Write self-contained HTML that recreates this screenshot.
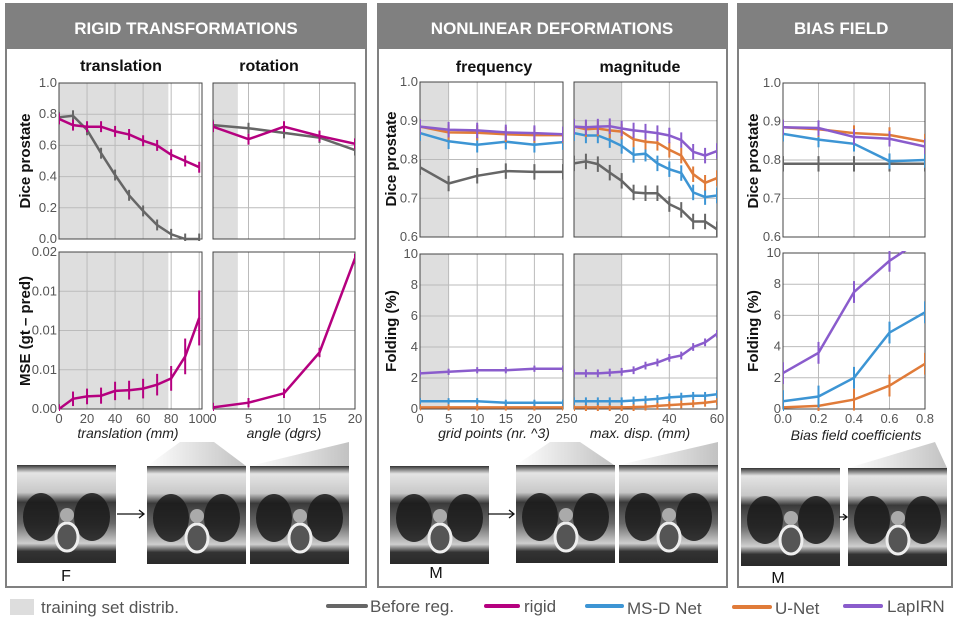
<!DOCTYPE html>
<html><head><meta charset="utf-8"><style>
body{margin:0;width:960px;height:623px;background:#fff;overflow:hidden;font-family:"Liberation Sans",sans-serif}
svg{position:absolute;left:0;top:0}
</style></head><body>
<svg id="fig" width="960" height="623" xmlns="http://www.w3.org/2000/svg">
<defs>
<linearGradient id="mri" x1="0" y1="0" x2="0" y2="1"><stop offset="0" stop-color="#333"/><stop offset="0.08" stop-color="#e4e4e4"/><stop offset="0.28" stop-color="#c8c8c8"/><stop offset="0.38" stop-color="#3a3a3a"/><stop offset="0.6" stop-color="#6a6a6a"/><stop offset="0.8" stop-color="#cfcfcf"/><stop offset="0.88" stop-color="#333"/><stop offset="1" stop-color="#2a2a2a"/></linearGradient>
<linearGradient id="cone" x1="0" y1="0" x2="1" y2="0"><stop offset="0" stop-color="#fff"/><stop offset="1" stop-color="#999"/></linearGradient>
</defs>
<g>
<rect x="6" y="4" width="360" height="583" fill="#fff" stroke="#808080" stroke-width="2"/>
<rect x="6" y="4" width="360" height="45" fill="#808080"/>
<text x="186" y="34" text-anchor="middle" fill="#fff" font-size="17" font-weight="bold">RIGID TRANSFORMATIONS</text>
</g>
<g>
<rect x="378" y="4" width="349" height="583" fill="#fff" stroke="#808080" stroke-width="2"/>
<rect x="378" y="4" width="349" height="45" fill="#808080"/>
<text x="552" y="34" text-anchor="middle" fill="#fff" font-size="17" font-weight="bold">NONLINEAR DEFORMATIONS</text>
</g>
<g>
<rect x="738" y="4" width="214" height="583" fill="#fff" stroke="#808080" stroke-width="2"/>
<rect x="738" y="4" width="214" height="45" fill="#808080"/>
<text x="794" y="34" fill="#fff" font-size="17" font-weight="bold">BIAS FIELD</text>
</g>
<g font-size="16" font-weight="bold" fill="#111" text-anchor="middle">
<text x="121" y="71">translation</text>
<text x="269" y="71">rotation</text>
<text x="494" y="72">frequency</text>
<text x="640" y="72">magnitude</text>
</g>
<g font-size="15" font-weight="bold" fill="#111" text-anchor="middle">
<text transform="translate(30,161) rotate(-90)">Dice prostate</text>
<text transform="translate(30,331) rotate(-90)">MSE (gt – pred)</text>
<text transform="translate(396,159) rotate(-90)">Dice prostate</text>
<text transform="translate(396,331) rotate(-90)">Folding (%)</text>
<text transform="translate(758,161) rotate(-90)">Dice prostate</text>
<text transform="translate(758,331) rotate(-90)">Folding (%)</text>
</g>
<g font-size="14" font-style="italic" fill="#222" text-anchor="middle">
<text x="128" y="438">translation (mm)</text>
<text x="284" y="438">angle (dgrs)</text>
<text x="494" y="438">grid points (nr. ^3)</text>
<text x="640" y="438">max. disp. (mm)</text>
<text x="856" y="440">Bias field coefficients</text>
</g>
<g id="charts"></g>
<g id="images">
<polygon points="147,466 246,466 214,442 180,442" fill="url(#cone)" opacity="0.6"/>
<polygon points="250,466 349,466 349,442" fill="url(#cone)" opacity="0.6"/>
<polygon points="516,465 614,465 580,442 550,442" fill="url(#cone)" opacity="0.6"/>
<polygon points="619,465 718,465 718,442" fill="url(#cone)" opacity="0.6"/>
<polygon points="848,468 947,468 935,442" fill="url(#cone)" opacity="0.6"/>
</g>
<g font-size="16" fill="#111" text-anchor="middle">
<text x="66" y="581">F</text>
<text x="436" y="578">M</text>
<text x="778" y="583">M</text>
</g>
<g stroke="#111" stroke-width="1.3" fill="none">
<path d="M117 514 H144 M139 510 L144 514 L139 518"/>
<path d="M488 514 H514 M509 510 L514 514 L509 518"/>
<path d="M839 517 H847 M843 514 L847 517 L843 520"/>
</g>
<g font-size="17" fill="#555">
<rect x="10" y="599" width="24" height="16" fill="#ddd"/>
<text x="41" y="613">training set distrib.</text>
<line x1="328" y1="606" x2="366" y2="606" stroke="#666" stroke-width="4" stroke-linecap="round"/>
<text x="370" y="612">Before reg.</text>
<line x1="486" y1="606" x2="518" y2="606" stroke="#b5007f" stroke-width="4" stroke-linecap="round"/>
<text x="524" y="612">rigid</text>
<line x1="587" y1="606" x2="622" y2="606" stroke="#3d95d4" stroke-width="4" stroke-linecap="round"/>
<text x="627" y="614">MS-D Net</text>
<line x1="734" y1="607" x2="770" y2="607" stroke="#e07b39" stroke-width="4" stroke-linecap="round"/>
<text x="775" y="614">U-Net</text>
<line x1="845" y1="606" x2="881" y2="606" stroke="#8a5ccc" stroke-width="4" stroke-linecap="round"/>
<text x="887" y="612">LapIRN</text>
</g>
</svg>
<script>
const NS='http://www.w3.org/2000/svg';
const C={gray:'#666',rigid:'#b5007f',blue:'#3d95d4',orange:'#e07b39',purple:'#8a5ccc'};
// data
const transX=[0,10,20,30,40,50,60,70,80,90,100];
const transBefore=[0.78,0.79,0.70,0.55,0.41,0.28,0.18,0.09,0.03,0.0,0.0];
const transRigid=[0.77,0.73,0.72,0.72,0.69,0.67,0.63,0.60,0.54,0.50,0.46];
const transMSE=[0.0,0.0013,0.0016,0.0017,0.0023,0.0024,0.0026,0.0031,0.0039,0.0067,0.0116];
const rotX=[0,5,10,15,20];
const rotBefore=[0.73,0.71,0.68,0.65,0.57];
const rotRigid=[0.72,0.64,0.72,0.66,0.61];
const rotMSE=[0.0002,0.0008,0.0020,0.0072,0.0192];
const freqX=[0,5,10,15,20,25];
const freqPurple=[0.885,0.877,0.875,0.870,0.868,0.865];
const freqOrange=[0.885,0.870,0.869,0.865,0.863,0.863];
const freqBlue=[0.868,0.847,0.838,0.846,0.838,0.845];
const freqGray=[0.78,0.738,0.758,0.77,0.768,0.768];
const freqFoldPurple=[2.3,2.4,2.5,2.5,2.6,2.6];
const freqFoldBlue=[0.5,0.5,0.5,0.4,0.4,0.4];
const freqFoldOrange=[0.1,0.1,0.1,0.1,0.1,0.1];
const magX=[0,5,10,15,20,25,30,35,40,45,50,55,60];
const magPurple=[0.885,0.883,0.885,0.886,0.880,0.875,0.872,0.868,0.862,0.850,0.82,0.81,0.822];
const magOrange=[0.885,0.878,0.880,0.875,0.872,0.852,0.846,0.843,0.825,0.81,0.762,0.74,0.752];
const magBlue=[0.868,0.862,0.862,0.85,0.835,0.812,0.815,0.79,0.775,0.765,0.715,0.703,0.707];
const magGray=[0.79,0.795,0.788,0.766,0.745,0.715,0.713,0.713,0.685,0.67,0.64,0.64,0.62];
const magFoldPurple=[2.3,2.3,2.3,2.35,2.4,2.5,2.8,3.0,3.3,3.45,4.0,4.3,4.85];
const magFoldBlue=[0.5,0.5,0.5,0.5,0.5,0.55,0.6,0.65,0.75,0.8,0.85,0.85,0.95];
const magFoldOrange=[0.1,0.1,0.1,0.1,0.1,0.12,0.15,0.2,0.25,0.3,0.35,0.4,0.5];
const biasX=[0,0.2,0.4,0.6,0.8];
const biasPurple=[0.885,0.883,0.86,0.855,0.835];
const biasOrange=[0.885,0.88,0.87,0.865,0.848];
const biasBlue=[0.868,0.853,0.842,0.797,0.80];
const biasGray=[0.79,0.79,0.79,0.79,0.79];
const biasFoldPurple=[2.3,3.6,7.5,9.5,11];
const biasFoldBlue=[0.5,0.8,2.0,4.9,6.2];
const biasFoldOrange=[0.1,0.2,0.6,1.5,2.9];
const diceTicks=['0.0','0.2','0.4','0.6','0.8','1.0'];
const mseTicks=['0.00','0.01','0.01','0.01','0.02'];
const dice2Ticks=['0.6','0.7','0.8','0.9','1.0'];
const foldTicks=['0','2','4','6','8','10'];
const transTicks=['0','20','40','60','80','100'];
const rotTicks=['0','5','10','15','20'];
const freqTicks=['0','5','10','15','20','25'];
const magTicks=['0','20','40','60'];
const biasTicks=['0.0','0.2','0.4','0.6','0.8'];

const root=document.getElementById('charts');
function el(tag,attrs,parent){const e=document.createElementNS(NS,tag);for(const k in attrs)e.setAttribute(k,attrs[k]);parent.appendChild(e);return e;}
function chart(name,box,xd,yd,shade,xt,yt,showX,showY,series,err){
  const g=el('g',{},root);
  
  
  const [x0,y0,x1,y1]=box;
  const sx=v=>x0+(v-xd[0])/(xd[1]-xd[0])*(x1-x0);
  const sy=v=>y1-(v-yd[0])/(yd[1]-yd[0])*(y1-y0);
  const cid='clip'+name;
  const cp=el('clipPath',{id:cid},g);el('rect',{x:x0,y:y0-2,width:x1-x0,height:y1-y0+4},cp);
  if(shade!==null){const r=el('rect',{x:x0,y:y0,width:sx(shade)-x0,height:y1-y0,fill:'#dedede'},g);
    
    }
  xt.forEach(t=>{const v=parseFloat(t);el('line',{x1:sx(v),x2:sx(v),y1:y0,y2:y1,stroke:'#bbb','stroke-width':1},g);
    if(showX){const tx=el('text',{x:sx(v),y:y1+14,'text-anchor':'middle','font-size':13,fill:'#555'},g);tx.textContent=t;}});
  yt.forEach((t,i)=>{const v=yd[0]+(yd[1]-yd[0])*i/(yt.length-1);el('line',{x1:x0,x2:x1,y1:sy(v),y2:sy(v),stroke:'#bbb','stroke-width':1},g);
    if(showY){const tx=el('text',{x:x0-2,y:sy(v)+4,'text-anchor':'end','font-size':13,fill:'#555'},g);tx.textContent=t;}});
  el('rect',{x:x0,y:y0,width:x1-x0,height:y1-y0,fill:'none',stroke:'#444','stroke-width':1},g);
  const cg=el('g',{'clip-path':'url(#'+cid+')'},g);
  series.forEach(s=>{
    const [xs,ys,col,sname]=s;
    const p=xs.map((x,i)=>(i?'L':'M')+sx(x).toFixed(1)+' '+sy(ys[i]).toFixed(1)).join(' ');
    const line=el('path',{d:p,fill:'none',stroke:col,'stroke-width':2.5},cg);
    
    
    xs.forEach((x,i)=>{const e=typeof err==='number'?err:err(ys[i]);el('line',{x1:sx(x),x2:sx(x),y1:sy(ys[i]+e),y2:sy(ys[i]-e),stroke:col,'stroke-width':2},cg);});
  });
}
chart('translation-dice',[59,83,202,239],[0,102],[0,1],78,transTicks,diceTicks,false,true,
 [[transX,transBefore,C.gray,'before-line'],[transX,transRigid,C.rigid,'rigid-line']],0.035);
chart('rotation-dice',[213,83,355,239],[0,20],[0,1],3.5,rotTicks,diceTicks,false,false,
 [[rotX,rotBefore,C.gray,'before-line'],[rotX,rotRigid,C.rigid,'rigid-line']],0.035);
chart('translation-mse',[59,252,202,409],[0,102],[0,0.02],78,transTicks,mseTicks,true,true,
 [[transX,transMSE,C.rigid,'rigid-mse-line']],v=>0.0006+v*0.25);
chart('rotation-mse',[213,252,355,409],[0,20],[0,0.02],3.5,rotTicks,mseTicks,true,false,
 [[rotX,rotMSE,C.rigid,'rigid-mse-line']],0.0006);
chart('frequency-dice',[420,82,563,237],[0,25],[0.6,1],5,freqTicks,dice2Ticks,false,true,
 [[freqX,freqGray,C.gray,'before-line'],[freqX,freqBlue,C.blue,'msd-line'],[freqX,freqOrange,C.orange,'unet-line'],[freqX,freqPurple,C.purple,'lapirn-line']],0.02);
chart('magnitude-dice',[574,82,717,237],[0,60],[0.6,1],20,magTicks,dice2Ticks,false,false,
 [[magX,magGray,C.gray,'before-line'],[magX,magBlue,C.blue,'msd-line'],[magX,magOrange,C.orange,'unet-line'],[magX,magPurple,C.purple,'lapirn-line']],0.02);
chart('frequency-folding',[420,254,563,409],[0,25],[0,10],5,freqTicks,foldTicks,true,true,
 [[freqX,freqFoldOrange,C.orange,'unet-line'],[freqX,freqFoldBlue,C.blue,'msd-line'],[freqX,freqFoldPurple,C.purple,'lapirn-line']],0.2);
chart('magnitude-folding',[574,254,717,409],[0,60],[0,10],20,magTicks,foldTicks,true,false,
 [[magX,magFoldOrange,C.orange,'unet-line'],[magX,magFoldBlue,C.blue,'msd-line'],[magX,magFoldPurple,C.purple,'lapirn-line']],0.25);
chart('bias-dice',[783,83,925,237],[0,0.8],[0.6,1],null,biasTicks,dice2Ticks,false,true,
 [[biasX,biasGray,C.gray,'before-line'],[biasX,biasBlue,C.blue,'msd-line'],[biasX,biasOrange,C.orange,'unet-line'],[biasX,biasPurple,C.purple,'lapirn-line']],0.02);
chart('bias-folding',[783,253,925,409],[0,0.8],[0,10],null,biasTicks,foldTicks,true,true,
 [[biasX,biasFoldOrange,C.orange,'unet-line'],[biasX,biasFoldBlue,C.blue,'msd-line'],[biasX,biasFoldPurple,C.purple,'lapirn-line']],0.7);
// MRI thumbnails
const imgs=document.getElementById('images');
[[17,465],[147,466],[250,466],[390,466],[516,465],[619,465],[741,468],[848,468]].forEach((p,i)=>{
  const g=el('g',{},imgs);
  
  
  el('rect',{x:p[0],y:p[1],width:99,height:98,fill:'url(#mri)'},g);
  el('ellipse',{cx:p[0]+24,cy:p[1]+52,rx:18,ry:24,fill:'#1a1a1a',opacity:0.85},g);
  el('ellipse',{cx:p[0]+75,cy:p[1]+52,rx:18,ry:24,fill:'#1a1a1a',opacity:0.85},g);
  el('ellipse',{cx:p[0]+50,cy:p[1]+72,rx:11,ry:14,fill:'#555',stroke:'#eee','stroke-width':3},g);
  el('ellipse',{cx:p[0]+50,cy:p[1]+50,rx:7,ry:7,fill:'#aaa'},g);
});
</script>
</body></html>
